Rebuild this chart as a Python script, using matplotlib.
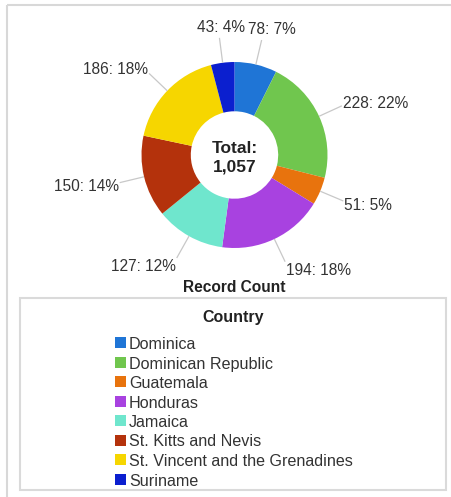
import matplotlib
matplotlib.use("Agg")
import matplotlib.pyplot as plt
from matplotlib.patches import Rectangle
import numpy as np

# Record counts per country
countries = [
    "Dominica",
    "Dominican Republic",
    "Guatemala",
    "Honduras",
    "Jamaica",
    "St. Kitts and Nevis",
    "St. Vincent and the Grenadines",
    "Suriname",
]
counts = [78, 228, 51, 194, 127, 150, 186, 43]
colors = ["#1f75d6", "#70c64e", "#e8730d", "#a842e0",
          "#6fe6cd", "#b4320c", "#f6d600", "#0b1fcf"]
chart_title = "Record Count"
legend_title = "Country"

plt.rcParams["font.family"] = ["Liberation Sans", "DejaVu Sans"]

W, H = 452, 497
fig = plt.figure(figsize=(W / 100, H / 100), dpi=100)
fig.patch.set_facecolor("white")

# Donut axes: one data unit equals the outer radius in pixels
R_PX = 93.0
CX, CY = 234.5, 155.0
ax = fig.add_axes([0, 0, 1, 1])
wedges, _ = ax.pie(
    counts, colors=colors, startangle=90, counterclock=False, radius=1.0,
    wedgeprops=dict(width=0.53, linewidth=0),
)
ax.set_xlim(-CX / R_PX, (W - CX) / R_PX)
ax.set_ylim(-(H - CY) / R_PX, CY / R_PX)
ax.set_aspect("equal")
ax.axis("off")

total = sum(counts)
px = 1.0 / R_PX
label_fs = 11.2
for w, v in zip(wedges, counts):
    ang = np.deg2rad((w.theta1 + w.theta2) / 2.0)
    c, s = np.cos(ang), np.sin(ang)
    r_end = 1.27
    ax.plot([c * 1.0, c * r_end], [s * 1.0, s * r_end],
            color="#c8c8c8", lw=0.9, solid_capstyle="butt")
    pct = round(100.0 * v / total)
    txt = f"{v}: {pct}%"
    ex, ey = c * r_end, s * r_end
    if abs(c) < 0.3:
        ax.text(ex + (6 + np.sign(c) * 4) * px, ey + 3 * px, txt, ha="center",
                va="bottom", fontsize=label_fs, color="#333333")
    else:
        ax.text(ex + np.sign(c) * 1 * px, ey + s * 8 * px, txt,
                ha="left" if c > 0 else "right", va="center_baseline",
                fontsize=label_fs, color="#333333")

# Centre total
ax.text(0, 8 * px, "Total:", ha="center", va="center_baseline",
        fontsize=12.5, fontweight="bold", color="#222222")
ax.text(0, -10 * px, f"{total:,}", ha="center", va="center_baseline",
        fontsize=12.5, fontweight="bold", color="#222222")
ax.text(0, (CY - 286) * px, chart_title, ha="center", va="center_baseline",
        fontsize=11.2, fontweight="bold", color="#222222")

# Overlay in pixel coordinates for the frame and legend
ov = fig.add_axes([0, 0, 1, 1], facecolor="none")
ov.set_xlim(0, W)
ov.set_ylim(H, 0)
ov.axis("off")
ov.add_patch(Rectangle((7, 5), 445, 500, fill=False, ec="#d8d8d8", lw=1.5))
ov.add_patch(Rectangle((20, 298), 426, 192, fill=False, ec="#dadada", lw=1.5))
ov.text(233, 316, legend_title, ha="center", va="center_baseline",
        fontsize=11.5, fontweight="bold", color="#222222")
for i, (name, col) in enumerate(zip(countries, colors)):
    y = 343 + i * 19.5
    ov.add_patch(Rectangle((115, y - 6), 11, 11, color=col, lw=0))
    ov.text(129, y, name, ha="left", va="center_baseline",
            fontsize=11.6, color="#333333")

fig.savefig("out.png", dpi=100, facecolor="white")
